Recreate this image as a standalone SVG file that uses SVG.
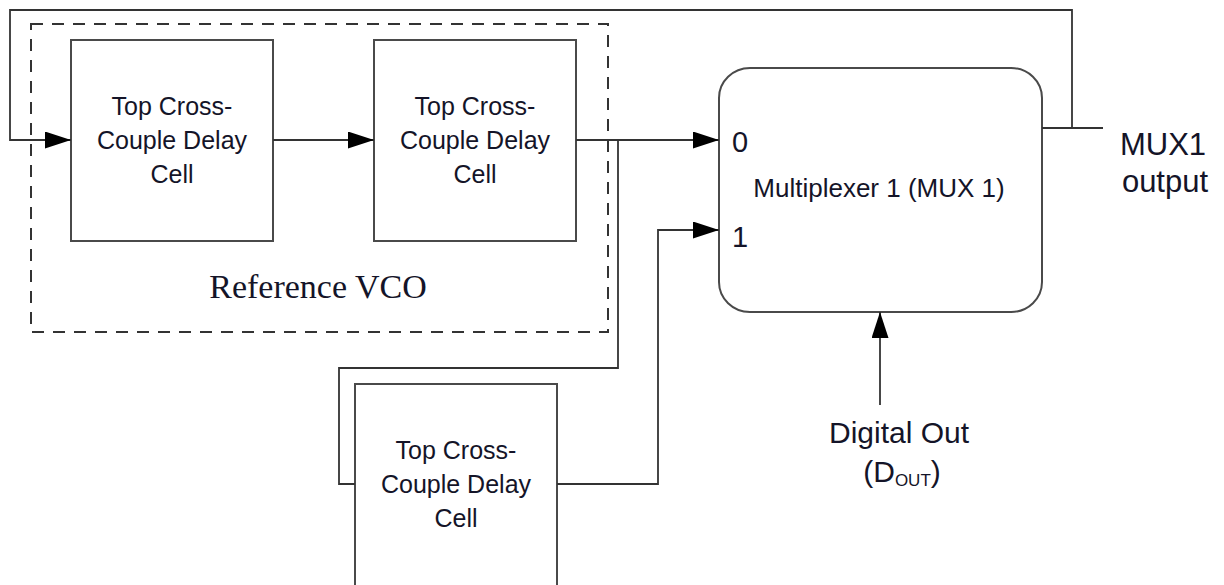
<svg xmlns="http://www.w3.org/2000/svg" width="1224" height="585" viewBox="0 0 1224 585">
<defs>
<marker id="arr" markerUnits="userSpaceOnUse" markerWidth="27" markerHeight="18" refX="26" refY="8.5" orient="auto">
<path d="M0,0 L26,8.5 L0,17 z" fill="#000"/>
</marker>
<style>
.box{fill:#fff;stroke:#4a4a4a;stroke-width:2}
.wire{fill:none;stroke:#333;stroke-width:1.8}
.t{font-family:"Liberation Sans",Arial,sans-serif;fill:#141428;text-anchor:middle}
.cell{font-size:25px}
</style>
</defs>
<rect width="1224" height="585" fill="#fff"/>
<g id="vco-boundary">
<rect x="31" y="24" width="577" height="308" fill="none" stroke="#333" stroke-width="2" stroke-dasharray="12,9"/>
<text class="t" x="318" y="298" style="font-family:'Liberation Serif','Times New Roman',serif;font-size:34px">Reference VCO</text>
</g>
<g id="cell1">
<rect class="box" x="71" y="40" width="202" height="201"/>
<text class="t cell" x="172" y="115">Top Cross-</text>
<text class="t cell" x="172" y="149">Couple Delay</text>
<text class="t cell" x="172" y="183">Cell</text>
</g>
<g id="cell2">
<rect class="box" x="374" y="40" width="202" height="201"/>
<text class="t cell" x="475" y="115">Top Cross-</text>
<text class="t cell" x="475" y="149">Couple Delay</text>
<text class="t cell" x="475" y="183">Cell</text>
</g>
<g id="cell3">
<rect class="box" x="355" y="384" width="202" height="204"/>
<text class="t cell" x="456" y="459">Top Cross-</text>
<text class="t cell" x="456" y="493">Couple Delay</text>
<text class="t cell" x="456" y="527">Cell</text>
</g>
<g id="mux1">
<rect class="box" x="719" y="68" width="323" height="244" rx="31" ry="30"/>
<text class="t" x="732" y="152" style="font-size:29px;text-anchor:start">0</text>
<text class="t" x="732" y="247" style="font-size:29px;text-anchor:start">1</text>
<text class="t" x="879" y="197" style="font-size:26px">Multiplexer 1 (MUX 1)</text>
</g>
<g id="mux1-output">
<text class="t" x="1163" y="155" style="font-size:31px">MUX1</text>
<text class="t" x="1165" y="192" style="font-size:31px">output</text>
</g>
<g id="digital-out">
<text class="t" x="899" y="443" style="font-size:30px">Digital Out</text>
<text class="t" x="902" y="482" style="font-size:30px">(D<tspan style="font-size:17px" dy="4">OUT</tspan><tspan dy="-4">)</tspan></text>
</g>
<g id="connectors">
<path class="wire" d="M1072,128 V10 H10 V140 H71" marker-end="url(#arr)"/>
<path class="wire" d="M273,140 H374" marker-end="url(#arr)"/>
<path class="wire" d="M576,140 H719" marker-end="url(#arr)"/>
<path class="wire" d="M618,140 V368 H339 V484 H355"/>
<path class="wire" d="M557,484 H658 V230 H719" marker-end="url(#arr)"/>
<path class="wire" d="M880,405 V312" marker-end="url(#arr)"/>
<path class="wire" d="M1042,128 H1103"/>
</g>
</svg>
